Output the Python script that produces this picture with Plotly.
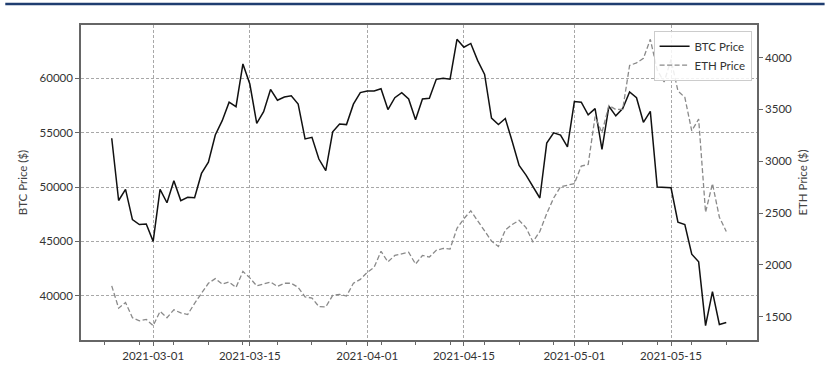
import pandas as pd
import plotly.graph_objects as go

start_date = "2021-02-23"
end_date = "2021-05-23"

btc_price = [
    54480, 48760, 49780, 47000, 46550, 46600, 45000, 49780, 48550, 50580,
    48750, 49050, 49020, 51250, 52280, 54780, 56100, 57800, 57390, 61320,
    59470, 55860, 56920, 58970, 57980, 58270, 58390, 57620, 54420, 54570,
    52570, 51500, 55070, 55800, 55740, 57620, 58680, 58830, 58830, 59030,
    57120, 58210, 58680, 58090, 56180, 58090, 58150, 59900, 60000, 59910,
    63580, 62850, 63200, 61620, 60350, 56330, 55740, 56300, 54190, 51990,
    51100, 50080, 48990, 54040, 54980, 54780, 53690, 57860, 57800, 56630,
    57210, 53450, 57420, 56540, 57210, 58740, 58210, 55950, 56950, 49990,
    49990, 49930, 46760, 46550, 43820, 43120, 37250, 40390, 37360, 37540,
]

eth_price = [
    1798, 1583, 1638, 1491, 1460, 1475, 1414, 1552, 1491, 1568,
    1537, 1521, 1629, 1721, 1823, 1868, 1814, 1835, 1783, 1937,
    1875, 1798, 1814, 1835, 1792, 1823, 1823, 1783, 1691, 1681,
    1598, 1595, 1706, 1715, 1700, 1823, 1860, 1928, 1977, 2131,
    2029, 2091, 2106, 2122, 2008, 2091, 2076, 2140, 2159, 2153,
    2353, 2445, 2522, 2430, 2328, 2230, 2177, 2337, 2390, 2430,
    2359, 2223, 2322, 2495, 2645, 2753, 2768, 2784, 2953, 2968,
    3430, 3276, 3538, 3498, 3500, 3923, 3948, 3991, 4175, 3880,
    3763, 3980, 3677, 3615, 3292, 3406, 2507, 2784, 2460, 2322,
]

major_ticks = ["2021-03-01", "2021-03-15", "2021-04-01", "2021-04-15", "2021-05-01", "2021-05-15"]
btc_ticks = [40000, 45000, 50000, 55000, 60000]
eth_ticks = [1500, 2000, 2500, 3000, 3500, 4000]

dates = pd.date_range(start_date, end_date, freq="D")


def padded(vals, frac=0.05):
    lo, hi = min(vals), max(vals)
    span = hi - lo
    return [lo - frac * span, hi + frac * span]


d0, d1 = dates[0], dates[-1]
dspan = d1 - d0
xrange = [d0 - 0.05 * dspan, d1 + 0.05 * dspan]

FONT = "Lato"
TICK_COLOR = "#333333"
FRAME = "#666666"
GRID = "#a8a8a8"

fig = go.Figure()
fig.add_trace(go.Scatter(
    x=dates, y=btc_price, name="BTC Price", mode="lines",
    line=dict(color="#111111", width=1.5), yaxis="y",
))
fig.add_trace(go.Scatter(
    x=dates, y=eth_price, name="ETH Price", mode="lines",
    line=dict(color="#8a8a8a", width=1.3, dash="5px,2.5px"), yaxis="y2",
))

fig.update_layout(
    width=829, height=374,
    margin=dict(l=81, r=72, t=25, b=21),
    paper_bgcolor="white", plot_bgcolor="white",
    font=dict(family=FONT, size=11.5, color=TICK_COLOR),
    showlegend=True,
    legend=dict(
        x=0.992, y=0.982, xanchor="right", yanchor="top",
        bgcolor="rgba(255,255,255,0.85)", bordercolor="#cccccc", borderwidth=1,
        font=dict(family=FONT, size=11.5, color="#333333"),
        itemwidth=30, tracegroupgap=0,
    ),
    xaxis=dict(
        type="date", range=xrange,
        tickvals=major_ticks, tickformat="%Y-%m-%d",
        showgrid=True, gridcolor=GRID, griddash="3px,2px", gridwidth=0.8,
        showline=True, linecolor=FRAME, linewidth=1.5, mirror=True,
        ticks="outside", ticklen=4, tickcolor=FRAME, tickwidth=1,
        minor=dict(ticks="outside", ticklen=3, tickcolor=FRAME,
                   tick0="2021-02-22", dtick=5 * 86400000, showgrid=False),
        zeroline=False,
        tickfont=dict(family=FONT, size=11.5, color=TICK_COLOR),
    ),
    yaxis=dict(
        range=padded(btc_price), tickvals=btc_ticks, tickformat="d",
        title=dict(text="BTC Price ($)", font=dict(family=FONT, size=11.5, color="#444444"), standoff=10),
        showgrid=True, gridcolor=GRID, griddash="3px,2px", gridwidth=0.8,
        showline=True, linecolor=FRAME, linewidth=1.5, mirror=True,
        ticks="outside", ticklen=4, tickcolor=FRAME, tickwidth=1,
        zeroline=False,
        tickfont=dict(family=FONT, size=11.5, color=TICK_COLOR),
    ),
    yaxis2=dict(
        range=padded(eth_price), tickvals=eth_ticks, tickformat="d",
        overlaying="y", side="right",
        title=dict(text="ETH Price ($)", font=dict(family=FONT, size=11.5, color="#444444"), standoff=8),
        showgrid=False,
        showline=True, linecolor=FRAME, linewidth=1.5,
        ticks="outside", ticklen=4, tickcolor=FRAME, tickwidth=1,
        zeroline=False,
        tickfont=dict(family=FONT, size=11.5, color=TICK_COLOR),
    ),
    shapes=[dict(
        type="line", xref="paper", yref="paper",
        x0=-0.112, x1=1.100, y0=1.067, y1=1.067,
        line=dict(color="#1f3d70", width=2.5),
    )],
)

fig.write_html("out.html")
